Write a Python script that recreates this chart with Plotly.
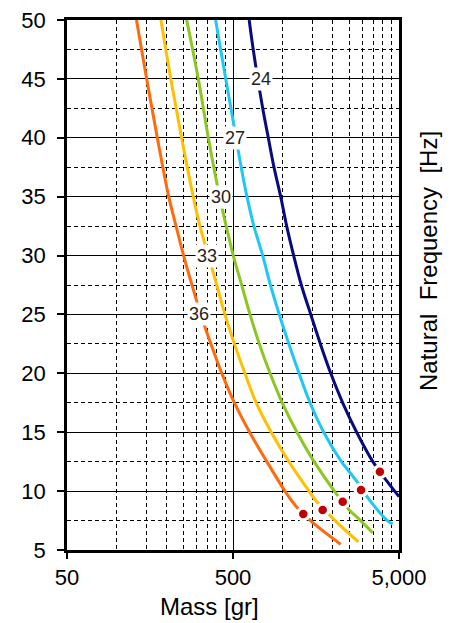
import numpy as np
import plotly.graph_objects as go

# ---- data ----
curve_names = ["36", "33", "30", "27", "24"]
curve_colors = ["#FF6A0A", "#FFC000", "#8CC620", "#1EC8F5", "#0A0A80"]

mass_36 = [131, 151, 175, 205, 227, 252, 283, 320, 368, 428, 510, 630, 800, 1028, 1181, 1489, 2227]
freq_36 = [50, 45, 40, 35, 32.5, 30, 27.5, 25, 22.5, 20, 17.5, 15, 12.5, 10, 8.82, 7.4, 5.48]

mass_33 = [184, 211, 245, 288, 316, 355, 399, 447, 510, 590, 690, 850, 1085, 1435, 1581, 2059, 2844]
freq_33 = [50, 45, 40, 35, 32.5, 30, 27.5, 25, 22.5, 20, 17.5, 15, 12.5, 10, 9.18, 7.5, 5.7]

mass_30 = [263, 309, 355, 383, 415, 455, 502, 564, 633, 720, 836, 990, 1215, 1540, 2087, 2509, 2935, 3470]
freq_30 = [50, 45, 40, 37.5, 35, 32.5, 30, 27.5, 25, 22.5, 20, 17.5, 15, 12.5, 9.81, 8.4, 7.5, 6.47]

mass_27 = [393, 421, 486, 560, 607, 668, 755, 840, 950, 1085, 1250, 1455, 1760, 2250, 2750, 3266, 4251, 4580]
freq_27 = [50, 47.5, 42.5, 37.5, 35, 32.5, 30, 27.5, 25, 22.5, 20, 17.5, 15, 12.5, 10.94, 9.39, 7.5, 7.21]

mass_24 = [626, 662, 755, 816, 883, 969, 1053, 1160, 1290, 1470, 1680, 1940, 2290, 2780, 3480, 4251, 5000]
freq_24 = [50, 47.5, 42.5, 40, 37.5, 35, 32.5, 30, 27.5, 25, 22.5, 20, 17.5, 15, 12.5, 10.8, 9.53]

dot_mass = [1325, 1734, 2290, 2952, 3838]
dot_freq = [8.06, 8.4, 9.1, 10.09, 11.65]

label_mass = [313, 347, 423, 514, 734]
label_freq = [25, 30, 35, 40, 45]

x_major = [50, 500, 5000]
x_major_text = ["50", "500", "5,000"]
x_minor = [100, 150, 200, 250, 300, 350, 400, 450,
           1000, 1500, 2000, 2500, 3000, 3500, 4000, 4500]
y_major = [5, 10, 15, 20, 25, 30, 35, 40, 45, 50]
y_minor = [7.5, 12.5, 17.5, 22.5, 27.5, 32.5, 37.5, 42.5, 47.5]

masses = [mass_36, mass_33, mass_30, mass_27, mass_24]
freqs = [freq_36, freq_33, freq_30, freq_27, freq_24]

FONT = "Liberation Sans, Arial, sans-serif"

fig = go.Figure()
for name, col, m, f in zip(curve_names, curve_colors, masses, freqs):
    fig.add_trace(go.Scatter(x=m, y=f, mode="lines", name=name,
                             line=dict(color=col, width=3, shape="spline", smoothing=1.0),
                             showlegend=False, hoverinfo="skip"))

# white halo then red dots
fig.add_trace(go.Scatter(x=dot_mass, y=dot_freq, mode="markers",
                         marker=dict(color="white", size=15, line=dict(width=0)),
                         showlegend=False, hoverinfo="skip"))
fig.add_trace(go.Scatter(x=dot_mass, y=dot_freq, mode="markers",
                         marker=dict(color="#C00000", size=8.5, line=dict(width=0)),
                         showlegend=False))

for t, m, f in zip(curve_names, label_mass, label_freq):
    fig.add_annotation(x=np.log10(m), y=f, xref="x", yref="y", text=t,
                       showarrow=False, bgcolor="white", borderpad=1,
                       font=dict(family=FONT, size=18, color="#222"))

fig.add_annotation(xref="paper", yref="paper", x=0.428, y=-0.106,
                   text="Mass [gr]", showarrow=False, xanchor="center", yanchor="middle",
                   font=dict(family=FONT, size=24, color="black"))
fig.add_annotation(xref="paper", yref="paper", x=1.087, y=0.545,
                   text="Natural\u00a0\u00a0Frequency\u00a0\u00a0[Hz]", textangle=-90,
                   showarrow=False, xanchor="center", yanchor="middle",
                   font=dict(family=FONT, size=24, color="black"))

fig.update_xaxes(type="log", range=[np.log10(50), np.log10(5000)],
                 tickvals=x_major, ticktext=x_major_text, automargin=False,
                 ticklabeloverflow="allow",
                 showgrid=True, gridcolor="black", gridwidth=1,
                 ticks="outside", ticklen=6, tickcolor="black", tickwidth=1.5,
                 showline=True, linecolor="black", linewidth=2.5, mirror=True,
                 tickfont=dict(family=FONT, size=22, color="black"),
                 zeroline=False,
                 minor=dict(tickvals=x_minor, showgrid=True, gridcolor="black",
                            gridwidth=1, griddash="4px,3px", ticks=""))
fig.update_yaxes(range=[5, 50], tickvals=y_major, automargin=False,
                 ticklabeloverflow="allow",
                 showgrid=True, gridcolor="black", gridwidth=1,
                 ticks="outside", ticklen=7, tickcolor="black", tickwidth=1.5,
                 showline=True, linecolor="black", linewidth=2.5, mirror=True,
                 ticklabelstandoff=7,
                 tickfont=dict(family=FONT, size=22, color="black"),
                 zeroline=False,
                 minor=dict(tickvals=y_minor, showgrid=True, gridcolor="black",
                            gridwidth=1, griddash="4px,3px", ticks=""))

fig.update_layout(width=449, height=615,
                  margin=dict(l=59, r=58, t=12, b=73),
                  plot_bgcolor="white", paper_bgcolor="white",
                  font=dict(family=FONT))

fig.write_html("out.html")
